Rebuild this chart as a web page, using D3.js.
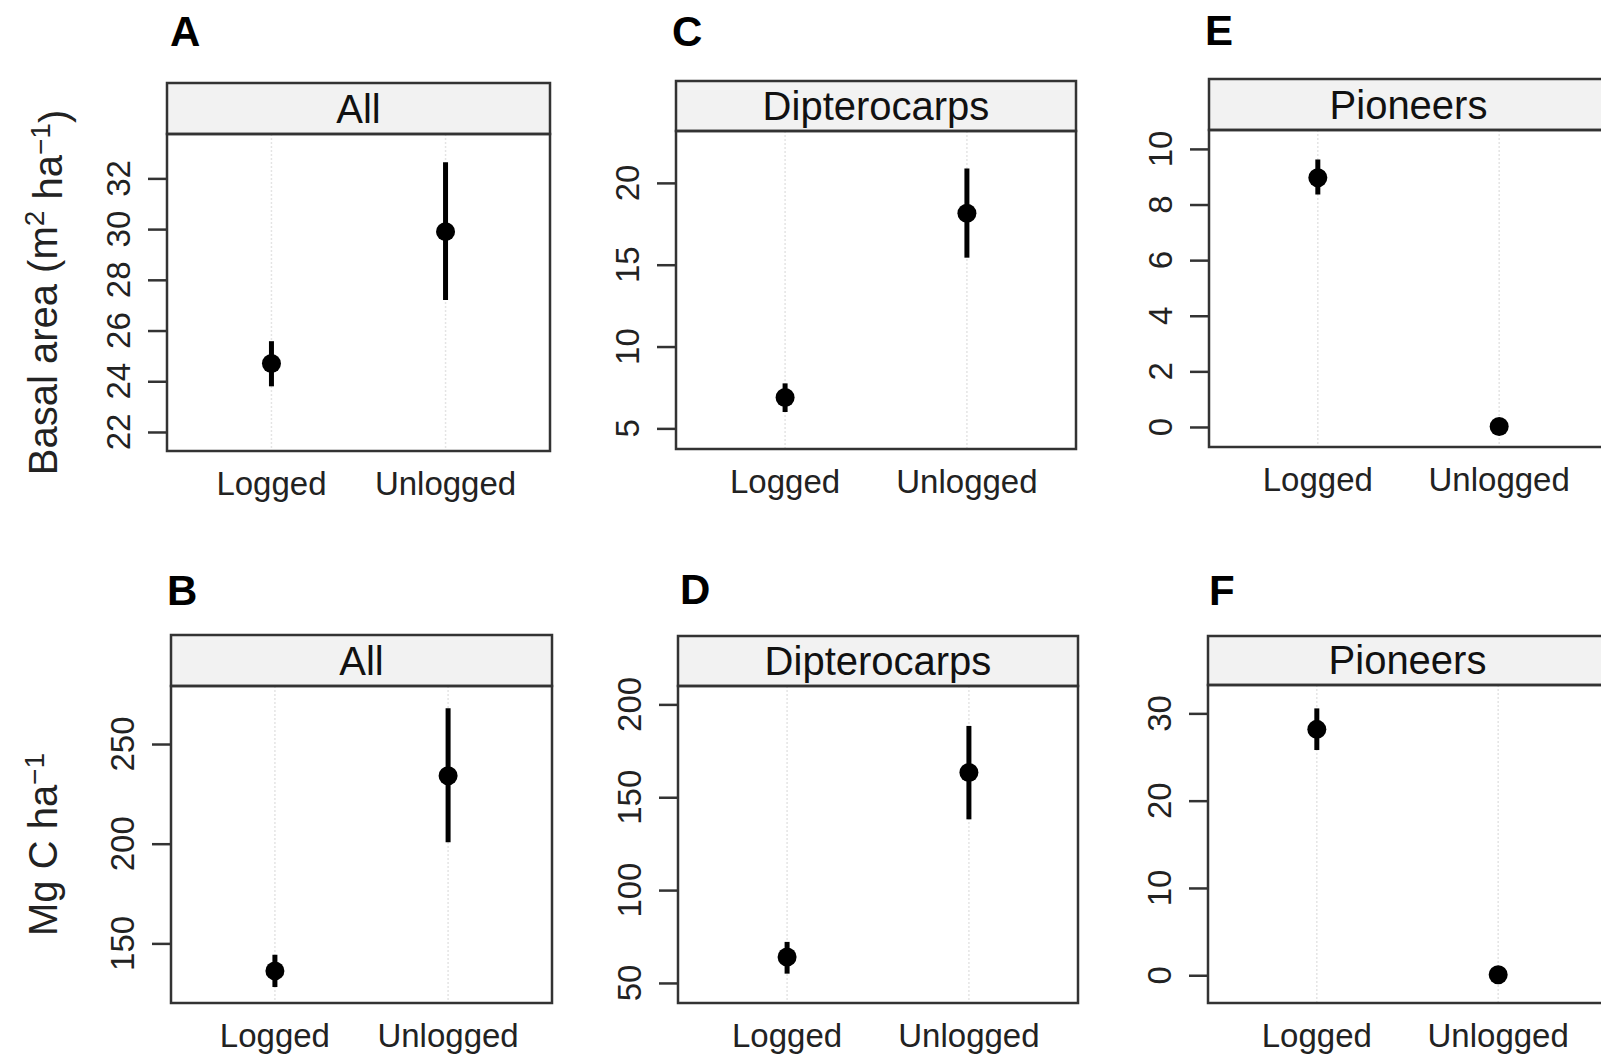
<!DOCTYPE html>
<html>
<head>
<meta charset="utf-8">
<script src="https://cdn.jsdelivr.net/npm/d3@7"></script>
<style>
	body { margin: 0; background: #fff; }
	svg { display: block; font-family: "Liberation Sans", Arial, Helvetica, sans-serif; }
</style>
</head>
<body>
<div id="chart"></div>
<script>
'use strict';

// categories on the x axis
const groups = ['Logged', 'Unlogged'];

// one entry per panel : A, B, C, D, E, F
const panelLetters = ['A', 'B', 'C', 'D', 'E', 'F'];
const stripNames = ['All', 'All', 'Dipterocarps', 'Dipterocarps', 'Pioneers', 'Pioneers'];

// estimates with lower / upper limits
const meanVals = [[24.70, 29.90], [136.2, 234.1], [6.89, 18.15], [64.0, 163.3], [8.96, 0.02], [28.17, 0.05]];
const lowerVals = [[23.80, 27.20], [128.1, 200.7], [6.00, 15.43], [55.0, 138.1], [8.36, 0.02], [25.80, 0.05]];
const upperVals = [[25.58, 32.64], [144.3, 268.0], [7.75, 20.88], [72.1, 188.4], [9.62, 0.02], [30.57, 0.05]];

// y axis
const yTicks = [
	[22, 24, 26, 28, 30, 32],
	[150, 200, 250],
	[5, 10, 15, 20],
	[50, 100, 150, 200],
	[0, 2, 4, 6, 8, 10],
	[0, 10, 20, 30]
];
const yDomains = [[21.25, 33.75], [120.1, 279.1], [3.74, 23.17], [39.2, 209.9], [-0.72, 10.68], [-3.18, 33.25]];

const svg = d3.select('#chart').append('svg')
	.attr('width', 1601)
	.attr('height', 1055);

// panel frames : x0, x1, strip top, strip bottom, panel bottom
const frames = [
	{x0: 167, x1: 550, top: 83, strip: 134, bottom: 451},
	{x0: 171, x1: 552, top: 635, strip: 686, bottom: 1003},
	{x0: 676, x1: 1076, top: 81, strip: 131, bottom: 449},
	{x0: 678, x1: 1078, top: 636, strip: 686, bottom: 1003},
	{x0: 1209, x1: 1608, top: 79, strip: 130, bottom: 447},
	{x0: 1208, x1: 1607, top: 636, strip: 685, bottom: 1003}
];
const letterPos = [[170, 46], [167, 605], [672, 46], [680, 604], [1205, 45], [1209, 605]];

const boxColor = '#333';

function drawPanel(idx) {
	let f = frames[idx];
	let g = svg.append('g').attr('class', 'panel');

	let x = d3.scaleLinear()
		.domain([0.4, 2.6])
		.range([f.x0, f.x1]);
	let y = d3.scaleLinear()
		.domain(yDomains[idx])
		.range([f.bottom, f.strip]);

	//reference lines
	g.selectAll('line.ref')
		.data(groups)
		.enter().append('line')
		.attr('class', 'ref')
		.attr('x1', (d, i) => x(i + 1))
		.attr('x2', (d, i) => x(i + 1))
		.attr('y1', f.strip)
		.attr('y2', f.bottom)
		.attr('stroke', '#e4e4e4')
		.attr('stroke-width', 1.5)
		.attr('stroke-dasharray', '2,2');

	//error bars
	g.selectAll('line.bar')
		.data(groups)
		.enter().append('line')
		.attr('class', 'bar')
		.attr('x1', (d, i) => x(i + 1))
		.attr('x2', (d, i) => x(i + 1))
		.attr('y1', (d, i) => y(lowerVals[idx][i]))
		.attr('y2', (d, i) => y(upperVals[idx][i]))
		.attr('stroke', '#000')
		.attr('stroke-width', 5);

	g.selectAll('circle')
		.data(groups)
		.enter().append('circle')
		.attr('cx', (d, i) => x(i + 1))
		.attr('cy', (d, i) => y(meanVals[idx][i]))
		.attr('r', 9.5)
		.attr('fill', '#000');

	// y axis ticks (labels rotated like lattice)
	let yAxis = d3.axisLeft(y)
		.tickValues(yTicks[idx])
		.tickSize(19)
		.tickFormat('');
	let ax = g.append('g')
		.attr('transform', 'translate(' + f.x0 + ',0)')
		.call(yAxis);
	ax.select('.domain').remove();
	ax.selectAll('line').attr('stroke', boxColor).attr('stroke-width', 2.5);

	g.selectAll('text.ytick')
		.data(yTicks[idx])
		.enter().append('text')
		.attr('class', 'ytick')
		.attr('transform', d => 'translate(' + (f.x0 - 49) + ',' + y(d) + ') rotate(-90)')
		.attr('text-anchor', 'middle')
		.attr('dy', '0.35em')
		.attr('font-size', 33)
		.attr('fill', '#222')
		.text(d => d);

	// x labels
	g.selectAll('text.xtick')
		.data(groups)
		.enter().append('text')
		.attr('class', 'xtick')
		.attr('x', (d, i) => x(i + 1))
		.attr('y', f.bottom + 44)
		.attr('text-anchor', 'middle')
		.attr('font-size', 33)
		.attr('fill', '#222')
		.text(d => d);

	// strip
	g.append('rect')
		.attr('x', f.x0)
		.attr('y', f.top)
		.attr('width', f.x1 - f.x0)
		.attr('height', f.strip - f.top)
		.attr('fill', '#f2f2f2')
		.attr('stroke', boxColor)
		.attr('stroke-width', 2.5);

	g.append('text')
		.attr('x', (f.x0 + f.x1) / 2)
		.attr('y', f.strip - 11)
		.attr('text-anchor', 'middle')
		.attr('font-size', 40)
		.attr('fill', '#111')
		.text(stripNames[idx]);

	// panel box
	g.append('rect')
		.attr('x', f.x0)
		.attr('y', f.strip)
		.attr('width', f.x1 - f.x0)
		.attr('height', f.bottom - f.strip)
		.attr('fill', 'none')
		.attr('stroke', boxColor)
		.attr('stroke-width', 2.5);

	svg.append('text')
		.attr('x', letterPos[idx][0])
		.attr('y', letterPos[idx][1])
		.attr('font-size', 42)
		.attr('font-weight', 'bold')
		.attr('fill', '#000')
		.text(panelLetters[idx]);
}

for (let i = 0; i < panelLetters.length; i++)
	drawPanel(i);

// y axis titles
let t1 = svg.append('text')
	.attr('transform', 'translate(43,' + ((134 + 451) / 2) + ') rotate(-90)')
	.attr('text-anchor', 'middle')
	.attr('dy', '0.35em')
	.attr('font-size', 40)
	.attr('fill', '#222');
t1.append('tspan').text('Basal area (m');
t1.append('tspan').attr('dy', '-0.45em').attr('font-size', 28).text('2');
t1.append('tspan').attr('dy', '0.45em').text(' ha');
t1.append('tspan').attr('dy', '-0.45em').attr('font-size', 28).text('\u22121');
t1.append('tspan').attr('dy', '0.45em').text(')');

let t2 = svg.append('text')
	.attr('transform', 'translate(43,' + ((686 + 1003) / 2) + ') rotate(-90)')
	.attr('text-anchor', 'middle')
	.attr('dy', '0.35em')
	.attr('font-size', 40)
	.attr('fill', '#222');
t2.append('tspan').text('Mg C ha');
t2.append('tspan').attr('dy', '-0.45em').attr('font-size', 28).text('\u22121');
</script>
</body>
</html>
